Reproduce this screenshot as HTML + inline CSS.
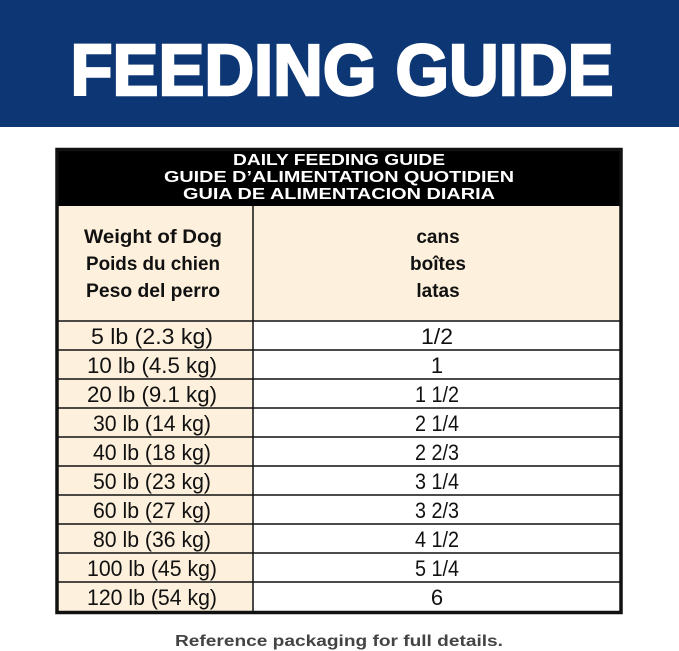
<!DOCTYPE html>
<html><head><meta charset="utf-8"><style>
html,body{margin:0;padding:0;background:#fff;width:679px;height:651px;overflow:hidden}
svg{display:block}
</style></head><body>
<svg width="679" height="651" viewBox="0 0 679 651" xmlns="http://www.w3.org/2000/svg" font-family="Liberation Sans, sans-serif">
<rect x="0" y="0" width="679" height="127" fill="#0d3674"/>
<text x="342" y="95" font-size="72" font-weight="bold" fill="#fff" stroke="#fff" stroke-width="2.5" text-anchor="middle" textLength="543" lengthAdjust="spacingAndGlyphs">FEEDING GUIDE</text>
<rect x="57" y="150" width="564" height="462" fill="#fff"/>
<rect x="57" y="150" width="564" height="56" fill="#000"/>
<rect x="57" y="206" width="564" height="115" fill="#fdf0dc"/>
<rect x="57" y="321" width="196" height="291" fill="#fdf0dc"/>
<g fill="#fff" font-weight="bold" font-size="16" text-anchor="middle">
<text x="339" y="165" textLength="212" lengthAdjust="spacingAndGlyphs">DAILY FEEDING GUIDE</text>
<text x="339" y="182" textLength="350" lengthAdjust="spacingAndGlyphs">GUIDE D’ALIMENTATION QUOTIDIEN</text>
<text x="339" y="199" textLength="312" lengthAdjust="spacingAndGlyphs">GUIA DE ALIMENTACION DIARIA</text>
</g>
<g fill="#111" font-weight="bold" font-size="19" text-anchor="middle">
<text x="153" y="243" textLength="138" lengthAdjust="spacingAndGlyphs">Weight of Dog</text>
<text x="153" y="270" textLength="134" lengthAdjust="spacingAndGlyphs">Poids du chien</text>
<text x="153" y="297" textLength="134" lengthAdjust="spacingAndGlyphs">Peso del perro</text>
<text x="438" y="243">cans</text>
<text x="438" y="270">boîtes</text>
<text x="438" y="297">latas</text>
</g>
<g stroke="#111" stroke-width="1.5">
<line x1="57" y1="321" x2="621" y2="321"/>
<line x1="57" y1="350" x2="621" y2="350"/>
<line x1="57" y1="379" x2="621" y2="379"/>
<line x1="57" y1="408" x2="621" y2="408"/>
<line x1="57" y1="437" x2="621" y2="437"/>
<line x1="57" y1="466" x2="621" y2="466"/>
<line x1="57" y1="495" x2="621" y2="495"/>
<line x1="57" y1="524" x2="621" y2="524"/>
<line x1="57" y1="553" x2="621" y2="553"/>
<line x1="57" y1="582" x2="621" y2="582"/>
<line x1="253" y1="206" x2="253" y2="612"/>
</g>
<rect x="57" y="149.5" width="564" height="463" fill="none" stroke="#111" stroke-width="3.5"/>
<g fill="#111" font-size="22" text-anchor="middle">
<text x="152" y="344" textLength="122" lengthAdjust="spacingAndGlyphs">5 lb (2.3 kg)</text>
<text x="152" y="373" textLength="130" lengthAdjust="spacingAndGlyphs">10 lb (4.5 kg)</text>
<text x="152" y="402" textLength="130" lengthAdjust="spacingAndGlyphs">20 lb (9.1 kg)</text>
<text x="152" y="431" textLength="118" lengthAdjust="spacingAndGlyphs">30 lb (14 kg)</text>
<text x="152" y="460" textLength="118" lengthAdjust="spacingAndGlyphs">40 lb (18 kg)</text>
<text x="152" y="489" textLength="118" lengthAdjust="spacingAndGlyphs">50 lb (23 kg)</text>
<text x="152" y="518" textLength="118" lengthAdjust="spacingAndGlyphs">60 lb (27 kg)</text>
<text x="152" y="547" textLength="118" lengthAdjust="spacingAndGlyphs">80 lb (36 kg)</text>
<text x="152" y="576" textLength="130" lengthAdjust="spacingAndGlyphs">100 lb (45 kg)</text>
<text x="152" y="605" textLength="130" lengthAdjust="spacingAndGlyphs">120 lb (54 kg)</text>
<text x="437" y="344" textLength="32" lengthAdjust="spacingAndGlyphs">1/2</text>
<text x="437" y="373">1</text>
<text x="437" y="402" textLength="44" lengthAdjust="spacingAndGlyphs">1 1/2</text>
<text x="437" y="431" textLength="44" lengthAdjust="spacingAndGlyphs">2 1/4</text>
<text x="437" y="460" textLength="44" lengthAdjust="spacingAndGlyphs">2 2/3</text>
<text x="437" y="489" textLength="44" lengthAdjust="spacingAndGlyphs">3 1/4</text>
<text x="437" y="518" textLength="44" lengthAdjust="spacingAndGlyphs">3 2/3</text>
<text x="437" y="547" textLength="44" lengthAdjust="spacingAndGlyphs">4 1/2</text>
<text x="437" y="576" textLength="44" lengthAdjust="spacingAndGlyphs">5 1/4</text>
<text x="437" y="605">6</text>
</g>
<text x="339" y="646" font-size="16" font-weight="bold" fill="#444" text-anchor="middle" textLength="328" lengthAdjust="spacingAndGlyphs">Reference packaging for full details.</text>
</svg>
</body></html>
